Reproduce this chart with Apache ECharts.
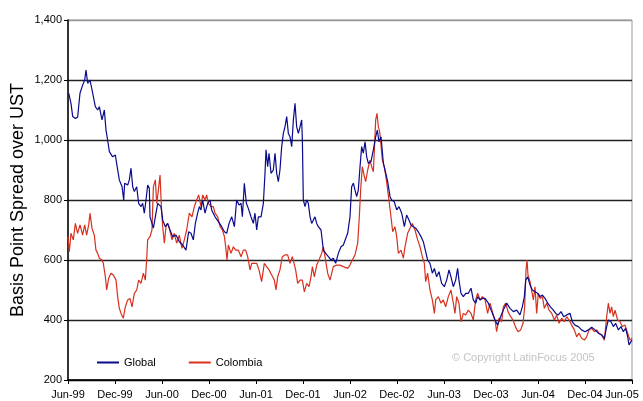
<!DOCTYPE html>
<html><head><meta charset="utf-8">
<script src="https://cdn.jsdelivr.net/npm/echarts@6/dist/echarts.min.js"></script>
<style>html,body{margin:0;padding:0;background:#fff}#c{width:643px;height:401px}</style>
</head><body><div id="c"></div>
<script>
// x = months since Jun-99
var xLabels = ['Jun-99','Dec-99','Jun-00','Dec-00','Jun-01','Dec-01','Jun-02','Dec-02','Jun-03','Dec-03','Jun-04','Dec-04','Jun-05'];
var seriesNames = ['Global','Colombia'];
var globalData = [
[0.09,1156],[0.38,1122],[0.6,1078],[0.94,1072],[1.23,1076],[1.36,1111],[1.53,1156],[1.87,1183],[2.13,1200],[2.3,1233],[2.51,1189],[2.81,1200],[3.15,1156],[3.49,1111],[3.79,1100],[4.0,1111],[4.34,1067],[4.64,1100],[4.85,1033],[5.06,1000],[5.28,961],[5.7,944],[6.04,950],[6.21,922],[6.55,867],[6.9,844],[7.11,800],[7.23,856],[7.62,850],[7.83,867],[8.04,906],[8.26,844],[8.47,828],[8.77,844],[9.02,789],[9.32,778],[9.53,789],[9.74,756],[9.96,800],[10.17,850],[10.38,839],[10.47,744],[10.72,722],[10.9,706],[11.15,744],[11.45,789],[11.87,778],[12.09,733],[12.43,711],[12.72,722],[13.02,700],[13.36,678],[13.79,683],[14.21,661],[14.64,650],[15.06,633],[15.4,694],[15.7,689],[16.0,667],[16.26,722],[16.55,756],[16.77,778],[16.98,767],[17.19,800],
[17.49,756],[17.83,789],[18.13,800],[18.34,767],[18.77,744],[19.2,728],[19.62,711],[19.97,694],[20.26,689],[20.56,722],[20.9,744],[21.24,711],[21.53,800],[21.83,783],[22.09,789],[22.26,744],[22.51,856],[22.77,789],[23.02,772],[23.36,744],[23.66,722],[23.87,756],[24.09,700],[24.3,744],[24.64,744],[24.94,789],[25.15,889],[25.28,967],[25.49,911],[25.66,956],[25.92,889],[26.21,900],[26.43,956],[26.64,889],[26.85,861],[27.06,900],[27.28,978],[27.49,1022],[27.7,1044],[27.92,1078],[28.13,1022],[28.34,1011],[28.56,978],[28.77,1067],[28.98,1122],[29.19,1044],[29.41,1022],[29.62,1044],[29.83,1067],[29.92,1000],[30.04,800],[30.26,778],[30.47,800],[30.68,789],[30.9,744],[31.11,722],[31.32,722],[31.53,744],[31.75,722],[31.96,711],[32.3,700],[32.6,633],[32.9,622],[33.24,611],[33.58,600],[33.87,606],[34.17,589],[34.51,622],[34.85,644],[35.15,650],
[35.36,650],[35.7,689],[36.0,744],[36.21,844],[36.43,856],[36.64,833],[36.85,811],[37.06,833],[37.28,911],[37.49,978],[37.7,956],[37.92,994],[38.13,944],[38.34,922],[38.68,928],[38.98,967],[39.28,1011],[39.49,1033],[39.7,994],[39.96,1011],[40.26,922],[40.47,900],[40.81,861],[41.11,811],[41.32,800],[41.66,794],[41.96,767],[42.26,778],[42.6,756],[42.94,711],[43.23,750],[43.53,733],[43.79,717],[44.09,711],[44.38,706],[44.72,694],[45.06,678],[45.36,661],[45.66,628],[45.91,600],[46.21,589],[46.51,556],[46.77,572],[47.06,544],[47.36,561],[47.7,522],[48.04,511],[48.34,533],[48.64,567],[48.89,544],[49.19,511],[49.49,533],[49.74,572],[49.91,533],[50.17,489],[50.47,478],[50.77,489],[51.11,489],[51.45,506],[51.74,467],[52.04,456],[52.3,478],[52.6,467],[52.9,472],
[53.24,472],[53.66,456],[54.09,428],[54.51,400],[54.85,383],[55.15,406],[55.57,433],[56.0,456],[56.43,439],[56.85,428],[57.28,433],[57.7,417],[58.0,444],[58.26,478],[58.43,533],[58.68,544],[58.98,517],[59.28,500],[59.62,494],[59.96,489],[60.26,478],[60.56,483],[60.9,472],[61.24,456],[61.58,444],[61.96,433],[62.26,422],[62.6,417],[62.94,428],[63.28,411],[63.66,417],[64.09,422],[64.38,394],[64.72,383],[65.15,378],[65.57,367],[66.0,361],[66.43,367],[66.85,376],[67.28,367],[67.7,356],[68.13,350],[68.47,339],[68.77,378],[68.98,400],[69.32,394],[69.62,378],[69.91,389],[70.26,367],[70.6,378],[70.89,361],[71.19,372],[71.45,344],[71.62,317],[71.87,328],[72.0,333]
];
var colombiaData = [
[0.0,678],[0.17,628],[0.38,689],[0.68,667],[0.94,722],[1.23,689],[1.53,717],[1.87,683],[2.13,717],[2.38,683],[2.64,717],[2.81,756],[3.06,706],[3.36,683],[3.57,633],[3.79,622],[4.0,606],[4.34,600],[4.51,589],[4.77,544],[4.94,500],[5.19,539],[5.49,556],[5.79,550],[6.13,533],[6.34,478],[6.55,439],[6.77,422],[7.06,406],[7.32,444],[7.62,467],[7.91,472],[8.17,444],[8.47,489],[8.77,500],[9.02,533],[9.32,522],[9.62,556],[9.87,533],[10.04,600],[10.17,667],[10.47,678],[10.72,700],[10.9,844],[11.15,867],[11.32,789],[11.49,822],[11.75,883],[11.92,778],[12.09,711],[12.3,656],[12.51,711],[12.72,722],[12.94,706],[13.28,667],[13.57,689],[13.87,656],[14.21,683],[14.55,639],[14.85,667],[15.15,700],[15.49,756],[15.83,744],[16.13,778],[16.42,800],[16.68,817],[16.98,778],[17.19,817],
[17.49,800],[17.7,817],[17.91,789],[18.26,778],[18.55,778],[18.77,756],[19.11,744],[19.41,711],[19.71,700],[19.97,678],[20.13,644],[20.3,600],[20.47,650],[20.81,622],[21.11,644],[21.4,633],[21.74,633],[22.09,611],[22.38,633],[22.68,633],[22.94,611],[23.24,567],[23.45,589],[23.79,589],[24.09,589],[24.38,567],[24.72,528],[25.06,589],[25.36,578],[25.66,567],[26.0,550],[26.34,533],[26.55,500],[26.77,544],[27.06,567],[27.36,611],[27.7,617],[28.04,617],[28.34,589],[28.64,611],[28.89,617],[29.06,567],[29.32,522],[29.62,533],[29.92,533],[30.17,494],[30.47,522],[30.77,511],[31.02,544],[31.2,578],[31.45,544],[31.75,583],[32.04,600],[32.38,622],[32.6,644],[32.81,611],[33.15,556],[33.45,533],[33.66,533],[33.87,578],[34.3,583],[34.72,583],[35.15,578],
[35.36,578],[35.7,572],[36.0,583],[36.3,600],[36.64,617],[36.98,656],[37.19,744],[37.36,833],[37.57,911],[37.83,878],[38.0,861],[38.26,900],[38.55,933],[38.77,911],[38.98,894],[39.11,967],[39.28,1067],[39.45,1089],[39.62,1044],[39.79,1028],[39.96,983],[40.13,933],[40.38,911],[40.64,867],[40.81,833],[41.02,789],[41.23,744],[41.45,694],[41.74,711],[41.96,678],[42.17,622],[42.51,633],[42.81,606],[43.02,644],[43.36,689],[43.66,706],[43.96,722],[44.3,700],[44.64,667],[44.94,644],[45.23,611],[45.49,589],[45.66,528],[45.91,556],[46.21,500],[46.51,467],[46.77,422],[46.94,467],[47.28,478],[47.62,456],[47.91,467],[48.21,444],[48.55,478],[48.89,500],[49.19,456],[49.4,422],[49.62,478],[49.91,456],[50.17,394],[50.47,422],[50.77,417],[51.11,433],[51.45,422],[51.74,400],[52.04,467],[52.3,489],[52.6,467],[52.9,478],
[53.24,467],[53.57,422],[53.87,456],[54.17,428],[54.51,400],[54.72,361],[55.02,406],[55.36,394],[55.57,444],[55.87,456],[56.17,428],[56.51,411],[56.81,400],[57.11,378],[57.45,361],[57.79,367],[58.09,389],[58.3,444],[58.47,567],[58.6,600],[58.72,550],[58.98,528],[59.19,533],[59.41,467],[59.62,511],[59.83,422],[60.04,489],[60.26,472],[60.56,478],[60.81,439],[61.11,456],[61.41,433],[61.75,422],[62.09,400],[62.38,417],[62.68,389],[63.02,406],[63.36,394],[63.66,411],[63.96,400],[64.3,383],[64.64,367],[64.94,344],[65.24,356],[65.57,339],[65.92,333],[66.21,344],[66.51,367],[66.85,372],[67.19,361],[67.49,367],[67.79,356],[68.13,350],[68.47,333],[68.77,411],[68.98,456],[69.19,422],[69.4,444],[69.62,411],[69.83,433],[70.17,400],[70.47,394],[70.77,378],[71.11,383],[71.45,356],[71.74,333],[72.0,339]
];
var copyrightText = '\u00A9 Copyright LatinFocus 2005';
var yAxisTitle = 'Basis Point Spread over UST';

var font = 'Liberation Sans, Arial, sans-serif';
var chart = echarts.init(document.getElementById('c'), null, {renderer:'canvas'});
chart.setOption({
  animation: false,
  backgroundColor: '#fff',
  grid: {left: 68, right: 11, top: 20, bottom: 21, show: true, borderColor: '#999', borderWidth: 1, containLabel: false, outerBoundsMode: 'none'},
  xAxis: {
    type: 'value', min: 0, max: 72, interval: 6,
    axisLine: {show: true, lineStyle: {color: '#000', width: 1.5}},
    axisTick: {show: true, length: 4, lineStyle: {color: '#000'}},
    splitLine: {show: false},
    axisLabel: {color: '#000', fontSize: 11, fontFamily: font, margin: 9, showMaxLabel: true, showMinLabel: true, hideOverlap: false,
      formatter: function (v) {
        var i = Math.round(v / 6);
        var s = xLabels[i] || '';
        return i === xLabels.length - 1 ? '{last|' + s + '}' : s;
      },
      rich: {last: {color: '#000', fontSize: 11, fontFamily: font, padding: [0, 20, 0, 0]}}
    }
  },
  yAxis: {
    type: 'value', min: 200, max: 1400, interval: 200,
    name: yAxisTitle, nameLocation: 'middle', nameGap: 41, nameMoveOverlap: false,
    nameTextStyle: {color: '#000', fontSize: 18, fontFamily: font},
    axisLine: {show: true, lineStyle: {color: '#000', width: 1.5}},
    axisTick: {show: true, length: 4, lineStyle: {color: '#000'}},
    splitLine: {show: true, lineStyle: {color: ['#000','#222','#222','#222','#222','#222','#999'], width: 1.3}},
    axisLabel: {color: '#000', fontSize: 11, fontFamily: font, margin: 6,
      formatter: function (v) { return v.toLocaleString('en-US'); }}
  },
  legend: {
    left: 92, top: 352, icon: 'rect', itemWidth: 22, itemHeight: 2, itemGap: 33,
    textStyle: {color: '#000', fontSize: 11, fontFamily: font},
    data: seriesNames
  },
  graphic: [{type: 'text', left: 452, top: 352, style: {text: copyrightText, fill: '#c4c4c4', fontSize: 11, fontFamily: font}}],
  series: [
    {name: seriesNames[0], type: 'line', data: globalData, showSymbol: false, symbol: 'none', color: '#0a0a8c', lineStyle: {width: 1.2, color: '#0a0a8c'}, z: 3},
    {name: seriesNames[1], type: 'line', data: colombiaData, showSymbol: false, symbol: 'none', color: '#d8301e', lineStyle: {width: 1.2, color: '#d8301e'}, z: 2}
  ]
});
</script>
</body></html>
